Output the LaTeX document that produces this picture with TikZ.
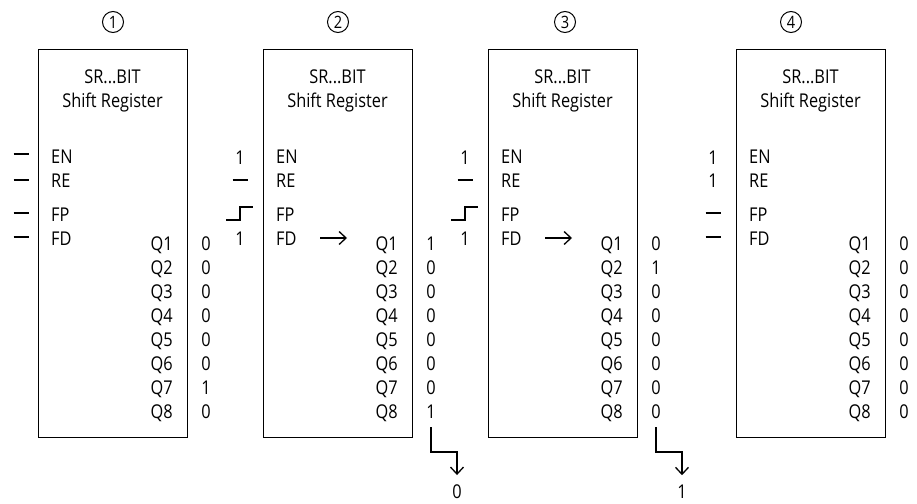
\documentclass[tikz,border=0pt]{standalone}
\usepackage{fontspec}
\setmainfont{Open Sans}[FakeStretch=0.86]
\usetikzlibrary{arrows.meta}
\tikzset{
  txt/.style={inner sep=0pt, font=\fontsize{19}{23}\selectfont},
  srbox/.style={draw, line width=1.4pt, minimum width=149pt, minimum height=388pt, anchor=north west, inner sep=0pt},
  numcirc/.style={circle, draw, line width=1pt, minimum size=21pt, inner sep=0pt, font=\fontsize{17}{17}\selectfont},
  inline/.style={line width=1.3pt},
  arr/.style={line width=1.3pt, -{Straight Barb[length=7pt,width=13pt,line width=1.3pt]}},
}
\newcommand\srblock[5]{%
  % #1 id, #2 left x, #3 number, #4 values, #5 circle x
  \node[srbox] (#1) at (#2,49) {};
  \node[numcirc] (#1c) at (#5,22) {#3};
  \node[txt, anchor=base] (#1h1) at (#2+74.5,83) {SR...BIT};
  \node[txt, anchor=base] (#1h2) at (#2+74.5,107) {Shift Register};
  \node[txt, anchor=base west] (#1en) at (#2+13,163) {EN};
  \node[txt, anchor=base west] (#1re) at (#2+13,187) {RE};
  \node[txt, anchor=base west] (#1fp) at (#2+13,221) {FP};
  \node[txt, anchor=base west] (#1fd) at (#2+13,245) {FD};
  \foreach \i in {1,...,8}
    \node[txt, anchor=base east] (#1q\i) at (#2+135,226+24*\i) {Q\i};
  \foreach \v [count=\i] in {#4}
    \node[txt, anchor=base] (#1v\i) at (#2+168,226+24*\i) {\v};
}
\newcommand\indash[2]{\draw[inline] (#1-7.5,#2) -- (#1+7.5,#2);}
\newcommand\instep[2]{\draw[inline] (#1-37,#2) -- (#1-23,#2) -- (#1-23,#2-13) -- (#1-10,#2-13);}
\begin{document}
\begin{tikzpicture}[x=1pt,y=-1pt]
\useasboundingbox (0,0) rectangle (917,503);

% Block 1
\srblock{a}{38}{1}{0,0,0,0,0,0,1,0}{113}
\indash{21}{154}
\indash{21}{180}
\indash{21}{213}
\indash{21}{237}

% Block 2
\srblock{b}{263}{2}{1,0,0,0,0,0,0,1}{338}
\node[txt, anchor=base] (bi1) at (240,164) {1};
\indash{240}{180}
\instep{263}{220}
\node[txt, anchor=base] (bi4) at (240,245) {1};
\coordinate (bfa) at (320,238);
\coordinate (bfb) at (347,238);
\draw[arr] (bfa) -- (bfb);
\node[txt, anchor=base] (bout) at (457,498) {0};
\coordinate (bc) at (457,452);
\draw[arr] (bv8.base) ++(0,9) |- (bc) -- ([yshift=9pt]bout.north);

% Block 3
\srblock{c}{488}{3}{0,1,0,0,0,0,0,0}{565}
\node[txt, anchor=base] (ci1) at (465,164) {1};
\indash{465}{180}
\instep{488}{220}
\node[txt, anchor=base] (ci4) at (465,245) {1};
\coordinate (cfa) at (545,238);
\coordinate (cfb) at (572,238);
\draw[arr] (cfa) -- (cfb);
\node[txt, anchor=base] (cout) at (682,498) {1};
\coordinate (cc) at (682,452);
\draw[arr] (cv8.base) ++(0,9) |- (cc) -- ([yshift=9pt]cout.north);

% Block 4
\srblock{d}{736}{4}{0,0,0,0,0,0,0,0}{791}
\node[txt, anchor=base] (di1) at (713,164) {1};
\node[txt, anchor=base] (di2) at (713,187) {1};
\indash{713}{213}
\indash{713}{237}
\end{tikzpicture}
\end{document}
